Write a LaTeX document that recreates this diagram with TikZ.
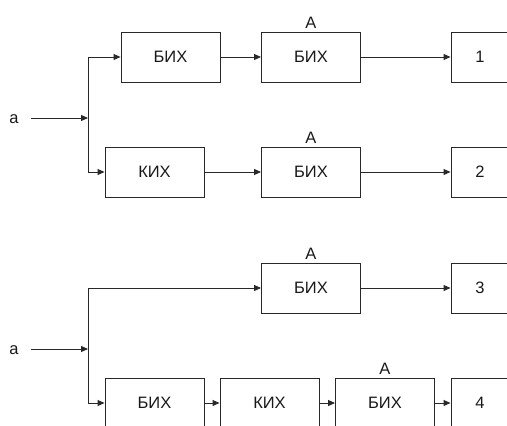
\documentclass[tikz,border=0pt]{standalone}
\usepackage{fontspec}
\setmainfont{Liberation Sans}
\usetikzlibrary{arrows.meta}
\definecolor{ln}{RGB}{40,40,40}
\definecolor{tx}{RGB}{25,25,25}
\tikzset{
  blk/.style={draw=ln, line width=0.9pt, minimum width=99pt, minimum height=50pt, inner sep=0pt, font=\fontsize{16.5}{19}\selectfont, text=tx},
  outb/.style={draw=ln, line width=0.9pt, minimum width=58pt, minimum height=50pt, inner sep=0pt, font=\fontsize{16.5}{19}\selectfont, text=tx},
  arr/.style={draw=ln, line width=0.9pt, -{Triangle[length=7pt,width=6pt]}},
  lbl/.style={font=\fontsize{16.5}{19}\selectfont, text=tx, inner sep=0pt},
  Alab/.style={label={[lbl, label distance=3pt]above:A}}
}
\begin{document}
\begin{tikzpicture}[x=1pt, y=-1pt]
\useasboundingbox (0,0) rectangle (507,426);
\clip (0,0) rectangle (507,426);
% top section
\node[lbl] (in1) at (14,119) {a};
\coordinate (s1) at (31,118);
\coordinate (j1) at (88,118);
\node[blk] (b1) at (170.5,57) {БИХ};
\node[blk, Alab] (a1) at (311,57) {БИХ};
\node[outb] (o1) at (480,57) {1};
\node[blk] (k1) at (154.5,172) {КИХ};
\node[blk, Alab] (a2) at (311,172) {БИХ};
\node[outb] (o2) at (480,172) {2};
\draw[arr] (s1) -- (j1);
\draw[arr] (j1) |- (b1.west);
\draw[arr] (j1) |- (k1.west);
\draw[arr] (b1) -- (a1);
\draw[arr] (a1) -- (o1);
\draw[arr] (k1) -- (a2);
\draw[arr] (a2) -- (o2);
% bottom section
\node[lbl] (in2) at (14,350) {a};
\coordinate (s2) at (31,349);
\coordinate (j2) at (88,349);
\node[blk, Alab] (a3) at (311,288) {БИХ};
\node[outb] (o3) at (480,288) {3};
\node[blk] (b4) at (154.5,403) {БИХ};
\node[blk] (k4) at (269.5,403) {КИХ};
\node[blk, Alab] (a4) at (385,403) {БИХ};
\node[outb] (o4) at (480,403) {4};
\draw[arr] (s2) -- (j2);
\draw[arr] (j2) |- (a3.west);
\draw[arr] (j2) |- (b4.west);
\draw[arr] (a3) -- (o3);
\draw[arr] (b4) -- (k4);
\draw[arr] (k4) -- (a4);
\draw[arr] (a4) -- (o4);
\end{tikzpicture}
\end{document}
